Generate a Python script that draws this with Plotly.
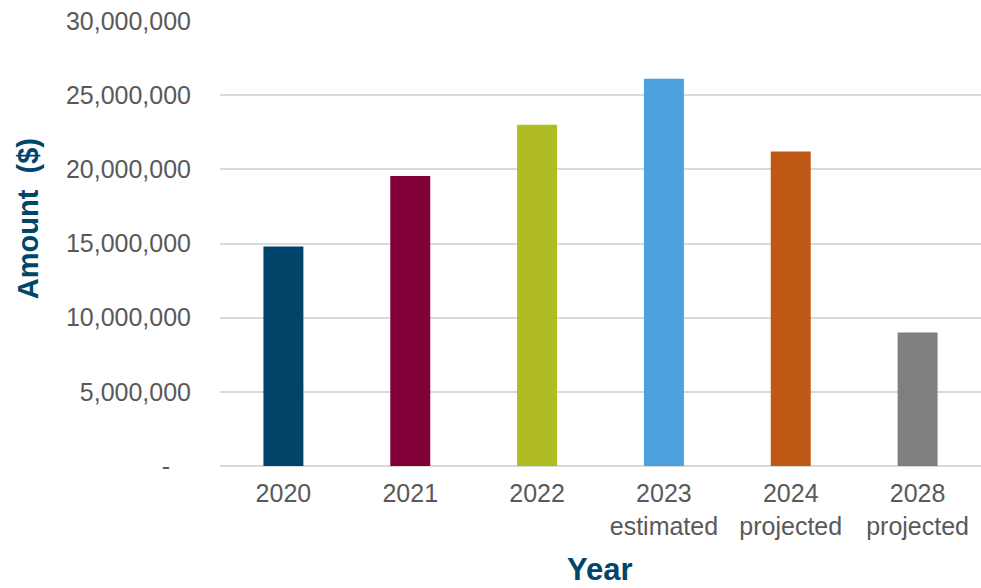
import plotly.graph_objects as go

# Annual amounts with estimates and projections
categories = ["2020", "2021", "2022", "2023<br>estimated", "2024<br>projected", "2028<br>projected"]
amounts = [14_800_000, 19_550_000, 23_000_000, 26_100_000, 21_200_000, 9_000_000]
bar_colors = ["#00446A", "#820038", "#AFBD22", "#4BA0DD", "#BF5815", "#7F7F7F"]

tick_values = [0, 5_000_000, 10_000_000, 15_000_000, 20_000_000, 25_000_000, 30_000_000]
tick_labels = ["-\u00a0\u00a0\u00a0", "5,000,000", "10,000,000", "15,000,000",
               "20,000,000", "25,000,000", "30,000,000"]

title_color = "#00466B"
text_color = "#595959"
font_family = "Liberation Sans, Arial, sans-serif"

fig = go.Figure(
    go.Bar(
        x=categories,
        y=amounts,
        marker=dict(color=bar_colors, line=dict(width=0)),
        hoverinfo="x+y",
    )
)

fig.update_layout(
    width=981,
    height=588,
    margin=dict(l=220, r=0, t=21, b=122),
    paper_bgcolor="white",
    plot_bgcolor="white",
    bargap=0.685,
    showlegend=False,
    font=dict(family=font_family, color=text_color, size=25),
    xaxis=dict(
        showgrid=False,
        showline=False,
        ticks="",
        tickfont=dict(size=25, color=text_color),
        ticklabelstandoff=10,
    ),
    yaxis=dict(
        range=[0, 30_000_000],
        tickvals=tick_values,
        ticktext=tick_labels,
        showgrid=True,
        gridcolor="#D9D9D9",
        gridwidth=2,
        zeroline=True,
        zerolinecolor="#D9D9D9",
        zerolinewidth=2,
        showline=False,
        ticks="",
        tickfont=dict(size=25, color=text_color),
        ticklabelstandoff=28,
    ),
    annotations=[
        dict(
            text="<b>Amount  ($)</b>",
            xref="paper", yref="paper",
            x=-0.2523, y=0.557,
            xanchor="center", yanchor="middle",
            textangle=-90,
            showarrow=False,
            font=dict(size=29, color=title_color, family=font_family),
        ),
        dict(
            text="<b>Year</b>",
            xref="paper", yref="paper",
            x=0.4993, y=-0.2323,
            xanchor="center", yanchor="middle",
            showarrow=False,
            font=dict(size=31, color=title_color, family=font_family),
        ),
    ],
)

fig.write_html("out.html")
